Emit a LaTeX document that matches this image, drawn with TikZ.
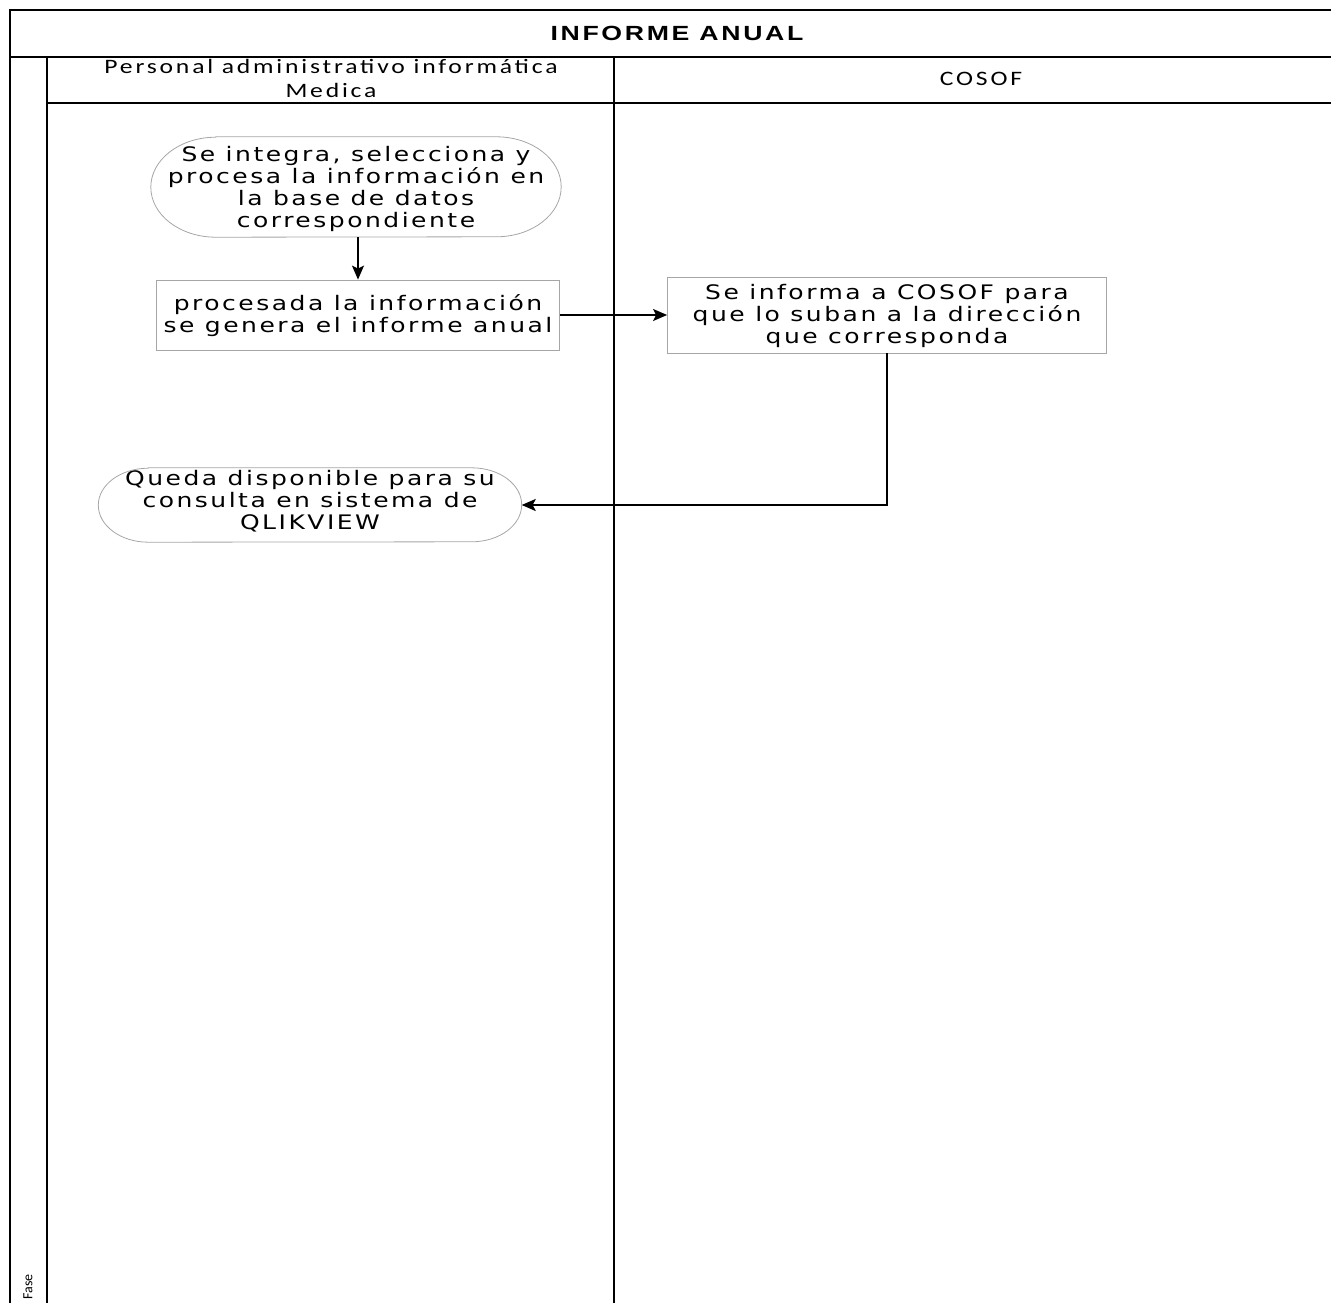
\documentclass[tikz,border=0pt]{standalone}
\usepackage{fontspec}
\usetikzlibrary{arrows.meta,calc}
\newfontfamily\bodyfont[LetterSpace=10]{DejaVu Sans}
\newfontfamily\headfont[LetterSpace=11]{Carlito}
\newfontfamily\titlefont[LetterSpace=10]{Liberation Sans}
\newfontfamily\fasefont{Carlito}
\newcommand\wide[2][0pt]{\raisebox{#1}[\height][\depth]{\scalebox{1.25}[1]{\begin{tabular}{@{}c@{}}#2\end{tabular}}}}
\newcommand\widet[1]{\scalebox{1.3}[1]{#1}}
\begin{document}
\begin{tikzpicture}[x=1pt,y=-1pt,
  frame/.style={line width=1.6pt,black},
  bodytext/.style={align=center,inner sep=0pt,font=\bodyfont\fontsize{20}{22}\selectfont},
  proc/.style={bodytext,draw=gray!70,line width=0.8pt},
  termline/.style={draw=gray!70,line width=0.8pt},
  conn/.style={line width=1.6pt,-{Stealth[length=14pt,width=12pt,inset=3pt]}}]
\useasboundingbox (0,0) rectangle (1331,1303);
\clip (0,0) rectangle (1331,1303);
% frame
\draw[frame] (1331,10) -- (10,10) -- (10,1303);
\draw[frame] (10,57) -- (1331,57);
\draw[frame] (47,57) -- (47,1303);
\draw[frame] (47,103) -- (1331,103);
\draw[frame] (614,57) -- (614,1303);
% headings
\node[font=\titlefont\bfseries\fontsize{20.5}{24}\selectfont,inner sep=0pt] (title) at (677,33) {\widet{INFORME ANUAL}};
\node[font=\headfont\fontsize{20.5}{23.5}\selectfont,inner sep=0pt] (lane1) at (331,81) {\wide{Personal administrativo informática\\Medica}};
\node[font=\headfont\fontsize{20.5}{24}\selectfont,inner sep=0pt] (lane2) at (981,81) {\wide{COSOF}};
\node[font=\fasefont\fontsize{14}{14}\selectfont,rotate=90,anchor=east,inner sep=0pt] (fase) at (28,1274) {Fase};
% nodes
\node[bodytext,minimum width=410pt,minimum height=100pt] (n1) at (356,187) {\wide[-3pt]{Se integra, selecciona y\\procesa la información en\\la base de datos\\correspondiente}};
\draw[termline] ($(n1.north west)+(65,0)$) -- ($(n1.north east)+(-65,0)$)
  arc[start angle=90,end angle=-90,x radius=65pt,y radius=50pt]
  -- ($(n1.south west)+(65,0)$)
  arc[start angle=270,end angle=90,x radius=65pt,y radius=50pt] -- cycle;
\node[proc,minimum width=403pt,minimum height=70pt] (n2) at (358,315) {\wide[-2pt]{procesada la información\\se genera el informe anual}};
\node[proc,minimum width=439pt,minimum height=76pt] (n3) at (887,315) {\wide[-2pt]{Se informa a COSOF para\\que lo suban a la dirección\\que corresponda}};
\node[bodytext,minimum width=423pt,minimum height=74pt] (n4) at (310,505) {\wide[1.5pt]{Queda disponible para su\\consulta en sistema de\\QLIKVIEW}};
\draw[termline] ($(n4.north west)+(50,0)$) -- ($(n4.north east)+(-50,0)$)
  arc[start angle=90,end angle=-90,x radius=50pt,y radius=37pt]
  -- ($(n4.south west)+(50,0)$)
  arc[start angle=270,end angle=90,x radius=50pt,y radius=37pt] -- cycle;
% connectors
\draw[conn] (n1.south -| n2.north) -- (n2.north);
\draw[conn] (n2.east) -- (n3.west);
\draw[conn] (n3.south) |- (n4.east);
\end{tikzpicture}
\end{document}
